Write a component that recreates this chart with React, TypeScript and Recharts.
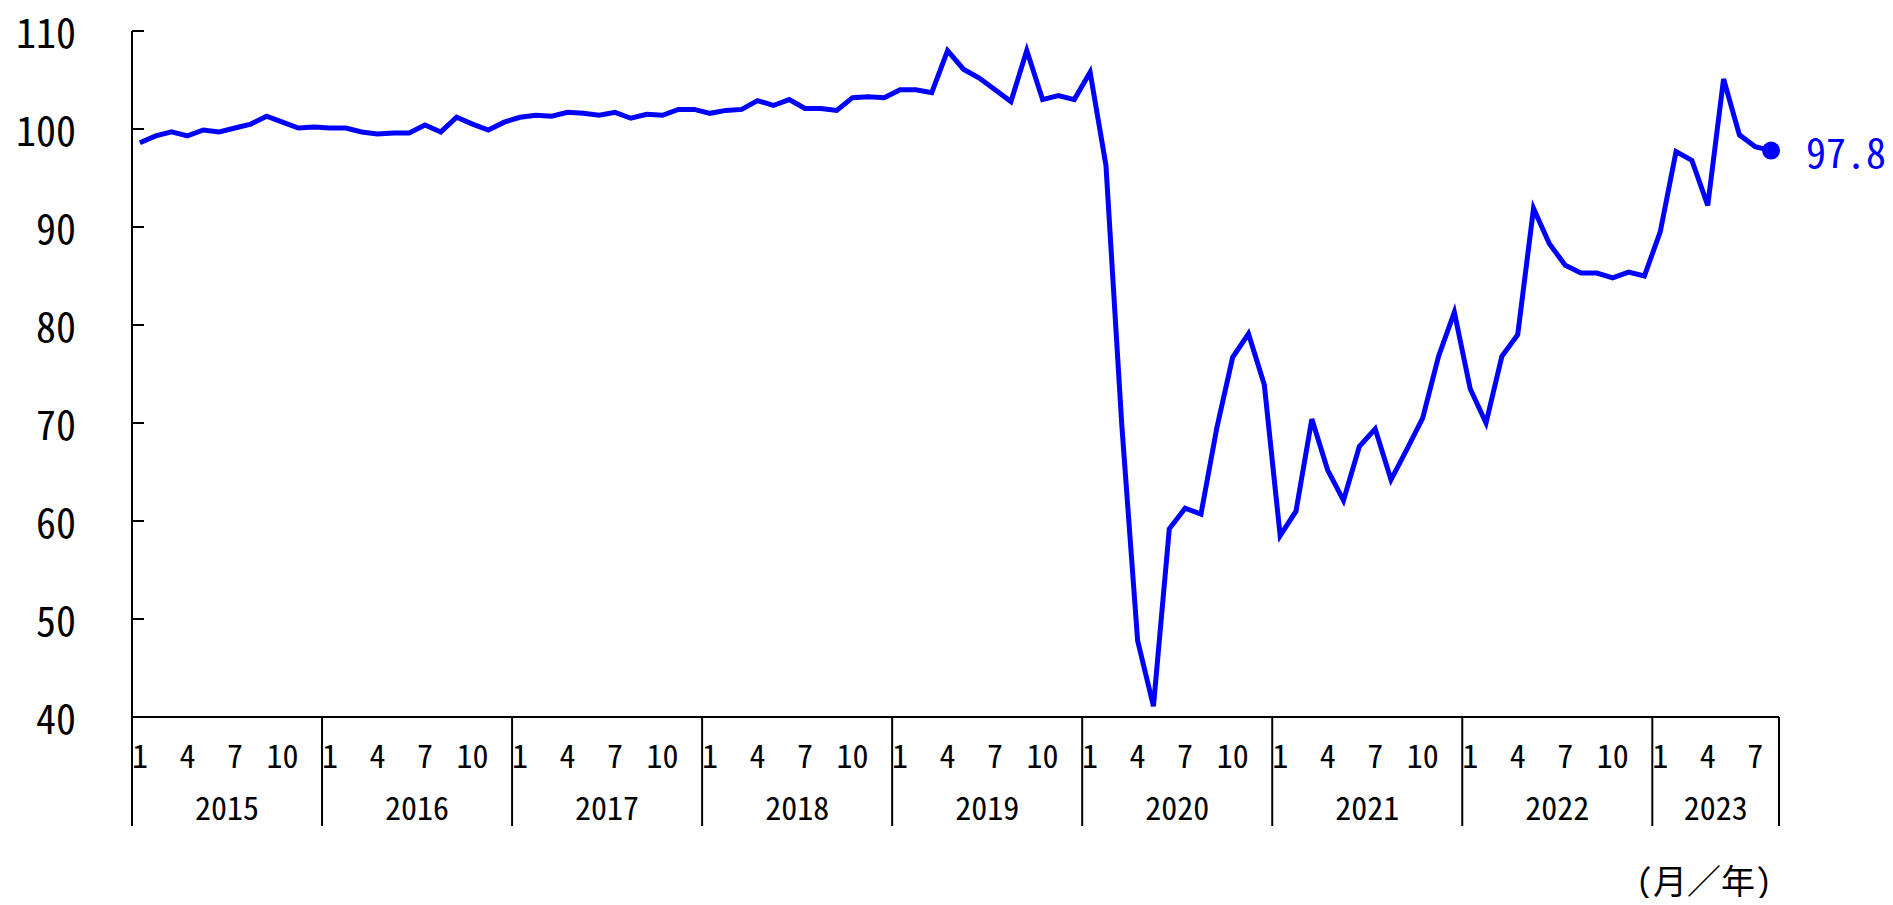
import React from 'react';
import { LineChart, Line, XAxis, YAxis } from 'recharts';

const years = [2015, 2016, 2017, 2018, 2019, 2020, 2021, 2022, 2023];
const v2015 = [98.6, 99.3, 99.7, 99.3, 99.9, 99.7, 100.1, 100.5, 101.3, 100.7, 100.1, 100.2];
const v2016 = [100.1, 100.1, 99.7, 99.5, 99.6, 99.6, 100.4, 99.7, 101.2, 100.5, 99.9, 100.7];
const v2017 = [101.2, 101.4, 101.3, 101.7, 101.6, 101.4, 101.7, 101.1, 101.5, 101.4, 102.0, 102.0];
const v2018 = [101.6, 101.9, 102.0, 102.9, 102.4, 103.0, 102.1, 102.1, 101.9, 103.2, 103.3, 103.2];
const v2019 = [104.0, 104.0, 103.7, 108.0, 106.1, 105.2, 104.0, 102.8, 108.0, 103.0, 103.4, 103.0];
const v2020 = [105.8, 96.3, 69.8, 47.8, 41.1, 59.2, 61.3, 60.7, 69.5, 76.7, 79.1, 73.9];
const v2021 = [58.5, 61.0, 70.4, 65.2, 62.1, 67.6, 69.4, 64.2, 67.3, 70.5, 76.8, 81.3];
const v2022 = [73.5, 70.0, 76.8, 79.0, 91.9, 88.3, 86.1, 85.3, 85.3, 84.8, 85.4, 85.0];
const v2023 = [89.5, 97.7, 96.8, 92.2, 105.1, 99.4, 98.2, 97.8];
const seriesByYear = [v2015, v2016, v2017, v2018, v2019, v2020, v2021, v2022, v2023];

const yTicks = [40, 50, 60, 70, 80, 90, 100, 110];
const monthTickLabels = [1, 4, 7, 10];
const unitLabel = '(月／年)';

const data = years.flatMap((yr, yi) =>
  seriesByYear[yi].map((v, mi) => ({ key: `${yr}/${mi + 1}`, year: yr, month: mi + 1, value: v }))
);

const SHIFT = 20;
const W = 1877;
const H = 890 + SHIFT;
const PLOT_LEFT = 124;
const PLOT_RIGHT = 1771;
const STEP = (PLOT_RIGHT - PLOT_LEFT) / data.length;
const BLUE = '#0000FF';
const FONT = '"Noto Sans Mono CJK JP", "Liberation Sans Narrow", "Noto Sans CJK JP", sans-serif';

function XTick(props: any) {
  const { x, y, payload } = props;
  const index = props.index ?? payload?.index ?? 0;
  const d = data[index];
  if (!d) return <g />;
  const half = STEP / 2;
  const parts: any[] = [];
  if (monthTickLabels.includes(d.month)) {
    parts.push(
      <text key="m" x={x} y={y + 37} textAnchor="middle" dominantBaseline="central" fontSize={32} fill="#000" fontFamily={FONT}>
        {d.month}
      </text>
    );
  }
  if (d.month === 1) {
    const count = data.filter((e) => e.year === d.year).length;
    parts.push(<line key="d" x1={x - half} x2={x - half} y1={y} y2={y + 109} stroke="#000" strokeWidth={2} />);
    parts.push(
      <text key="y" x={x - half + (count * STEP) / 2} y={y + 89} textAnchor="middle" dominantBaseline="central" fontSize={32} fill="#000" fontFamily={FONT}>
        {d.year}
      </text>
    );
  }
  if (index === data.length - 1) {
    parts.push(<line key="e" x1={x + half} x2={x + half} y1={y} y2={y + 109} stroke="#000" strokeWidth={2} />);
  }
  return <g>{parts}</g>;
}

function YTick(props: any) {
  const { x, y, payload } = props;
  return (
    <g>
      <line x1={x} x2={x + 12} y1={y} y2={y} stroke="#000" strokeWidth={2} />
      <text x={x - 56} y={y} textAnchor="end" dominantBaseline="central" fontSize={40} fill="#000" fontFamily={FONT}>
        {payload.value}
      </text>
    </g>
  );
}

function LastDot(props: any) {
  const { cx, cy, index, value } = props;
  if (index !== data.length - 1) return <g key={`d${index}`} />;
  const v = Array.isArray(value) ? value[1] : value;
  return (
    <g key="last">
      <circle cx={cx} cy={cy} r={9} fill={BLUE} />
      <text x={cx + 35} y={cy} dominantBaseline="central" fontSize={40} fill={BLUE} fontFamily={FONT}>
        {Number(v).toFixed(1)}
      </text>
    </g>
  );
}

export default function App() {
  return (
    <div style={{ position: 'relative', width: W, height: H, marginTop: -SHIFT, fontFamily: FONT }}>
      <LineChart
        width={W}
        height={H}
        data={data}
        style={{ overflow: 'visible' }}
        margin={{ top: 23 + SHIFT, right: W - PLOT_RIGHT, bottom: 61, left: 0 }}
      >
        <XAxis
          dataKey="key"
          type="category"
          interval={0}
          tickLine={false}
          tickSize={0}
          tickMargin={0}
          height={120}
          padding={{ left: STEP / 2, right: STEP / 2 }}
          axisLine={{ stroke: '#000', strokeWidth: 2 }}
          tick={<XTick />}
        />
        <YAxis
          type="number"
          domain={[40, 110]}
          ticks={yTicks}
          interval={0}
          width={PLOT_LEFT}
          tickLine={false}
          tickSize={0}
          tickMargin={0}
          axisLine={{ stroke: '#000', strokeWidth: 2 }}
          tick={<YTick />}
        />
        <Line
          type="linear"
          dataKey="value"
          stroke={BLUE}
          strokeWidth={5}
          dot={(p: any) => <LastDot key={`dot${p.index}`} {...p} />}
          activeDot={false}
          isAnimationActive={false}
        />
      </LineChart>
      <div
        style={{
          position: 'absolute',
          left: 1628,
          top: 855 + SHIFT,
          fontSize: 34,
          lineHeight: '34px',
          fontFamily: FONT,
          color: '#000',
          whiteSpace: 'nowrap',
        }}
      >
        {unitLabel}
      </div>
    </div>
  );
}
